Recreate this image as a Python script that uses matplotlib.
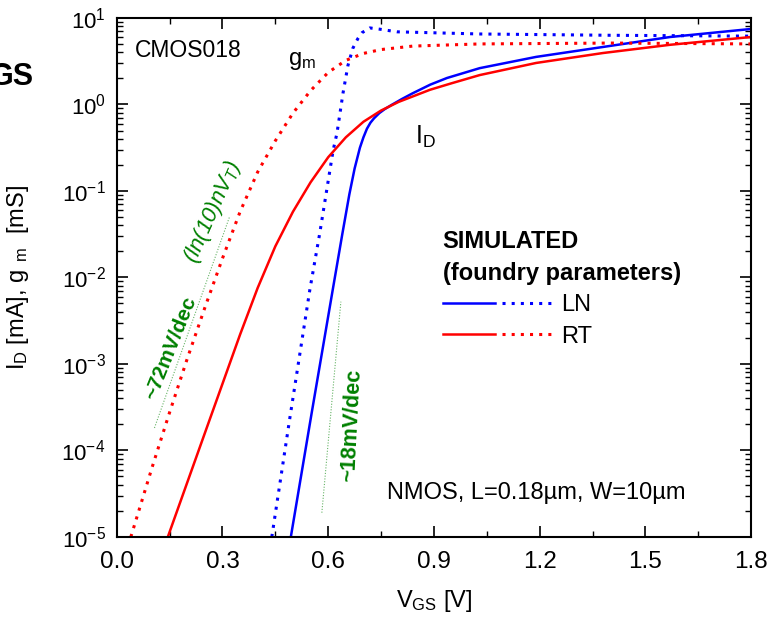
import matplotlib
matplotlib.use('Agg')
import matplotlib.pyplot as plt
import numpy as np
from matplotlib.legend_handler import HandlerTuple
from matplotlib.ticker import MultipleLocator, LogLocator

plt.rcParams['font.family'] = ['Liberation Sans', 'DejaVu Sans']
plt.rcParams['mathtext.fontset'] = 'custom'
plt.rcParams['mathtext.rm'] = 'Liberation Sans'
plt.rcParams['mathtext.it'] = 'Liberation Sans:italic'
plt.rcParams['mathtext.bf'] = 'Liberation Sans:bold'
plt.rcParams['mathtext.default'] = 'regular'
plt.rcParams['font.size'] = 17

# values (log10 of mA / mS)
ln_id_v = [0.494, 0.553, 0.613, 0.64, 0.66, 0.675, 0.69, 0.70, 0.71, 0.72, 0.73, 0.745, 0.76, 0.78,
           0.81, 0.84, 0.89, 0.937, 1.03, 1.19, 1.38, 1.57, 1.80]
ln_id_log = [-5.0, -3.57, -2.14, -1.50, -1.04, -0.74, -0.50, -0.38, -0.28, -0.21, -0.16, -0.10, -0.055, -0.005,
             0.065, 0.13, 0.23, 0.306, 0.42, 0.55, 0.665, 0.78, 0.873]

rt_id_v = [0.145, 0.25, 0.35, 0.40, 0.45, 0.50, 0.55, 0.60, 0.65, 0.70, 0.75, 0.80, 0.889, 0.95,
           1.03, 1.19, 1.38, 1.57, 1.80]
rt_id_log = [-5.0, -3.80, -2.66, -2.12, -1.64, -1.24, -0.90, -0.61, -0.38, -0.20, -0.07, 0.03, 0.17, 0.245,
             0.34, 0.48, 0.595, 0.69, 0.78]

ln_gm_v = [0.44, 0.491, 0.548, 0.576, 0.614, 0.625, 0.642, 0.656, 0.67, 0.684, 0.696, 0.718, 0.747,
           0.795, 0.889, 1.03, 1.4, 1.8]
ln_gm_log = [-5.0, -3.63, -2.14, -1.49, -0.53, -0.33, 0.13, 0.45, 0.65, 0.76, 0.83, 0.885, 0.87,
             0.84, 0.83, 0.815, 0.80, 0.79]

rt_gm_v = [0.04, 0.10, 0.15, 0.20, 0.25, 0.30, 0.35, 0.40, 0.45, 0.50, 0.55, 0.60, 0.65, 0.70,
           0.75, 0.84, 1.03, 1.4, 1.8]
rt_gm_log = [-5.0, -4.20, -3.56, -2.94, -2.35, -1.78, -1.24, -0.78, -0.42, -0.10, 0.16, 0.37, 0.51, 0.59,
             0.635, 0.675, 0.70, 0.71, 0.70]

# slope guides
guide72_v = [0.107, 0.32]
guide72_log = [-3.74, -1.30]
guide18_v = [0.582, 0.636]
guide18_log = [-4.72, -2.28]

blue = '#0000ff'
red = '#ff0000'
green = '#008000'

fig = plt.figure(figsize=(7.68, 6.2), dpi=100)
ax = fig.add_axes([0.152, 0.134, 0.826, 0.837])

l1, = ax.plot(ln_id_v, 10 ** np.array(ln_id_log), color=blue, lw=1.8)
l2, = ax.plot(ln_gm_v, 10 ** np.array(ln_gm_log), color=blue, lw=2.2, linestyle=(0, (1, 2)))
l3, = ax.plot(rt_id_v, 10 ** np.array(rt_id_log), color=red, lw=1.8)
l4, = ax.plot(rt_gm_v, 10 ** np.array(rt_gm_log), color=red, lw=2.2, linestyle=(0, (1, 2)))

ax.plot(guide72_v, 10 ** np.array(guide72_log), color='#66b366', lw=0.8, linestyle=(0, (1, 1.5)))
ax.plot(guide18_v, 10 ** np.array(guide18_log), color='#66b366', lw=0.8, linestyle=(0, (1, 1.5)))

ax.set_yscale('log')
ax.set_xlim(0, 1.8)
ax.set_ylim(1e-5, 10)
ax.xaxis.set_major_locator(MultipleLocator(0.3))
ax.xaxis.set_minor_locator(MultipleLocator(0.15))
ax.yaxis.set_major_locator(LogLocator(base=10, numticks=10))
ax.yaxis.set_minor_locator(LogLocator(base=10, subs=np.arange(2, 10), numticks=20))
ax.xaxis.set_major_formatter(plt.FuncFormatter(lambda v, p: f'{v:.1f}'))
ax.tick_params(which='both', direction='in', top=True, right=True)
ax.tick_params(which='major', length=8, width=1.2, pad=8)
ax.tick_params(which='minor', length=4, width=1)
ax.tick_params(axis='x', which='major', pad=10, labelsize=17.5)
ax.tick_params(axis='y', which='major', labelsize=16)
for s in ax.spines.values():
    s.set_linewidth(1.5)

ax.set_xlabel('V$_{GS}$ [V]', fontsize=17, labelpad=11)
ax.set_ylabel(r'I$_{D}$ [mA], g$_{\;\;m}$  [mS]', fontsize=17, labelpad=22)

ax.text(0.028, 0.938, 'CMOS018', transform=ax.transAxes, fontsize=16.5, va='center')
ax.text(0.27, 0.918, 'g$_{m}$', transform=ax.transAxes, fontsize=17, va='center')
ax.text(0.47, 0.77, 'I$_{D}$', transform=ax.transAxes, fontsize=18, va='center')
ax.text(0.426, 0.085, 'NMOS, L=0.18µm, W=10µm', transform=ax.transAxes, fontsize=17, va='center')

ax.text(0.153, 10 ** -2.815, '~72mV/dec', color=green, fontsize=15, fontweight='bold',
        rotation=68, ha='center', va='center')
ax.text(0.272, 10 ** -1.243, r'(ln(10)nV$_{\mathit{T}}$)', color=green, fontsize=16, style='italic',
        rotation=66, ha='center', va='center')
ax.text(0.667, 10 ** -3.705, '~18mV/dec', color=green, fontsize=15.5, fontweight='bold',
        rotation=87, ha='center', va='center')

leg = ax.legend([(l1, l2), (l3, l4)], ['LN', 'RT'],
                handler_map={tuple: HandlerTuple(ndivide=2, pad=0.3)},
                title='SIMULATED\n(foundry parameters)',
                title_fontproperties={'weight': 'bold', 'size': 17},
                alignment='left', frameon=False, fontsize=17,
                handlelength=4.7, handletextpad=0.3, labelspacing=0.4,
                loc='upper left', bbox_to_anchor=(0.499, 0.61), borderaxespad=0)
leg.get_title().set_linespacing(1.5)

fig.text(0.044, 0.876, 'GS', fontsize=22, fontweight='bold', ha='right', va='center')

fig.savefig('out.png', dpi=100)
